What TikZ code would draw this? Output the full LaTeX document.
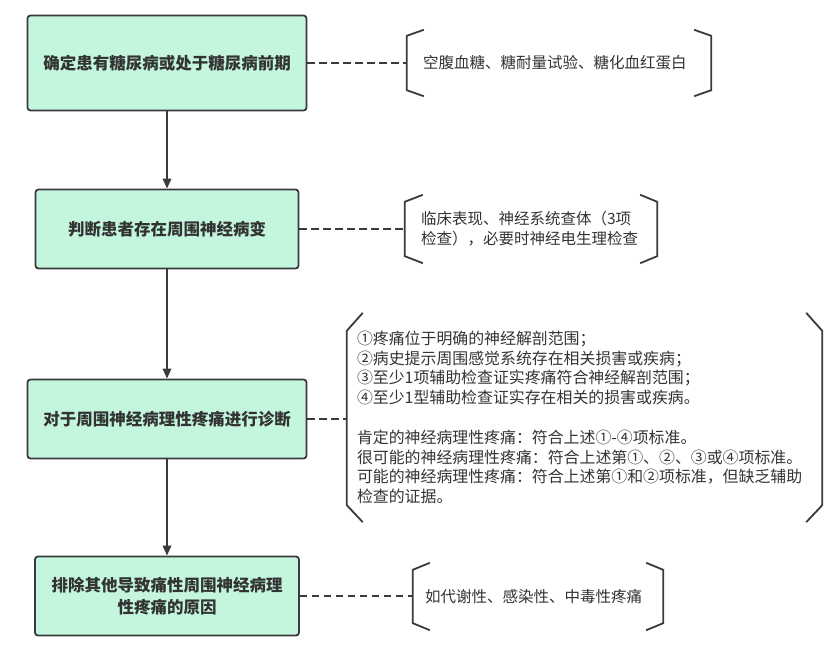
\documentclass[tikz,border=0pt]{standalone}
\usepackage{fontspec}
\setmainfont{Noto Sans CJK SC}
\usetikzlibrary{arrows.meta}
\definecolor{FlowMint}{HTML}{C4F6DE}
\definecolor{FlowInk}{HTML}{333333}
\definecolor{FlowLine}{HTML}{3A3A3A}

\begin{document}
\begin{tikzpicture}[x=1pt, y=-1pt, >={Triangle[length=10pt,width=8.5pt]},
    stepbox/.style={draw=FlowLine, line width=1.8pt, fill=FlowMint, rounded corners=3pt,
        inner sep=0pt, align=center, text=FlowInk,
        font=\bfseries\fontsize{16.5}{22}\selectfont},
    note/.style={inner ysep=0pt, align=left, text=FlowInk,
        font=\fontsize{15.5}{19.8}\selectfont},
    brace/.style={FlowLine, line width=1.8pt},
    link/.style={FlowLine, line width=1.8pt, dash pattern=on 7.5pt off 4.5pt}]

    \useasboundingbox (0,0) rectangle (834,647);

    % Steps (left column)
    \node[stepbox, minimum width=279pt, minimum height=95pt] (s1) at (167,63)
        {确定患有糖尿病或处于糖尿病前期};
    \node[stepbox, minimum width=263pt, minimum height=79pt] (s2) at (167,229)
        {判断患者存在周围神经病变};
    \node[stepbox, minimum width=279pt, minimum height=79pt] (s3) at (167,419)
        {对于周围神经病理性疼痛进行诊断};
    \node[stepbox, minimum width=264pt, minimum height=79pt] (s4) at (167,596)
        {排除其他导致痛性周围神经病理\\性疼痛的原因};

    % Arrows between steps
    \draw[->, FlowLine, line width=1.8pt] (s1.south) -- (s1.south |- s2.north);
    \draw[->, FlowLine, line width=1.8pt] (s2.south) -- (s2.south |- s3.north);
    \draw[->, FlowLine, line width=1.8pt] (s3.south) -- (s3.south |- s4.north);

    % Notes (right column)
    \node[note, inner xsep=16pt, text width=272pt, minimum height=66pt] (n1) at (559,63)
        {空腹血糖、糖耐量试验、糖化血红蛋白};
    \node[note, inner xsep=16pt, text width=220pt, minimum height=68pt] (n2) at (531,229)
        {临床表现、神经系统查体（3项\\检查），必要时神经电生理检查};
    \node[note, inner xsep=10pt, text width=455pt, minimum height=209pt,
          font=\fontsize{15.9}{19.8}\selectfont] (n3) at (584.5,417.5)
        {①疼痛位于明确的神经解剖范围；\\
         ②病史提示周围感觉系统存在相关损害或疾病；\\
         ③至少1项辅助检查证实疼痛符合神经解剖范围；\\
         ④至少1型辅助检查证实存在相关的损害或疾病。\\[19.8pt]
         肯定的神经病理性疼痛：符合上述①-④项标准。\\
         很可能的神经病理性疼痛：符合上述第①、②、③或④项标准。\\
         可能的神经病理性疼痛：符合上述第①和②项标准，但缺乏辅助\\
         检查的证据。};
    \node[note, inner xsep=12pt, text width=226pt, minimum height=67pt] (n4) at (538,596.5)
        {如代谢性、感染性、中毒性疼痛};

    % Brackets round the notes
    \draw[brace] ([xshift=17pt]n1.north west) -- ([yshift=-6pt]n1.north west)
        -- ([yshift=6pt]n1.south west) -- ([xshift=17pt]n1.south west);
    \draw[brace] ([xshift=-17pt]n1.north east) -- ([yshift=-6pt]n1.north east)
        -- ([yshift=6pt]n1.south east) -- ([xshift=-17pt]n1.south east);
    \draw[brace] ([xshift=18pt]n2.north west) -- ([yshift=-7pt]n2.north west)
        -- ([yshift=7pt]n2.south west) -- ([xshift=18pt]n2.south west);
    \draw[brace] ([xshift=-17pt]n2.north east) -- ([yshift=-7pt]n2.north east)
        -- ([yshift=7pt]n2.south east) -- ([xshift=-17pt]n2.south east);
    \draw[brace] ([xshift=16pt]n3.north west) -- ([yshift=-18pt]n3.north west)
        -- ([yshift=17pt]n3.south west) -- ([xshift=16pt]n3.south west);
    \draw[brace] ([xshift=-16pt]n3.north east) -- ([yshift=-18pt]n3.north east)
        -- ([yshift=17pt]n3.south east) -- ([xshift=-16pt]n3.south east);
    \draw[brace] ([xshift=17pt]n4.north west) -- ([yshift=-7pt]n4.north west)
        -- ([yshift=7pt]n4.south west) -- ([xshift=17pt]n4.south west);
    \draw[brace] ([xshift=-17pt]n4.north east) -- ([yshift=-7pt]n4.north east)
        -- ([yshift=7pt]n4.south east) -- ([xshift=-17pt]n4.south east);

    % Dashed links from steps to notes
    \draw[link] (s1.east) -- (s1.east -| n1.west);
    \draw[link] (s2.east) -- (s2.east -| n2.west);
    \draw[link] (s3.east) -- (s3.east -| n3.west);
    \draw[link] (s4.east) -- (s4.east -| n4.west);
\end{tikzpicture}
\end{document}
